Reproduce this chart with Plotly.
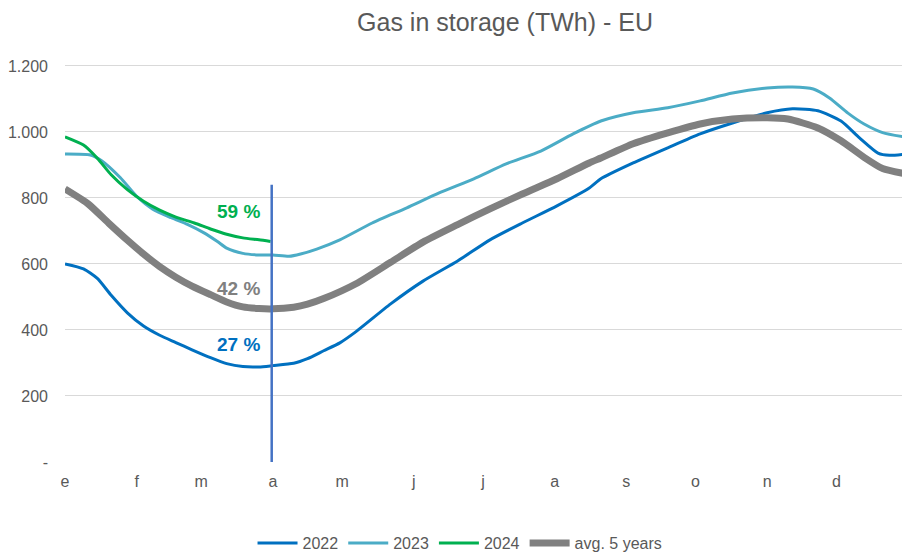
import plotly.graph_objects as go

# ---- data (day of year, TWh) ----
days_2022 = [0, 8, 14, 20, 27, 34, 41, 48, 55, 63, 70, 77, 84, 90, 99, 105, 112, 119, 126, 141, 155, 170, 184, 198, 213, 227, 232, 246, 261, 275, 289, 304, 315, 326, 336, 344, 352, 357, 364]
vals_2022 = [600, 585, 556, 505, 452, 412, 384, 362, 340, 316, 298, 289, 288, 292, 299, 313, 337, 361, 395, 479, 548, 609, 673, 724, 776, 830, 858, 906, 952, 994, 1027, 1058, 1070, 1064, 1033, 982, 936, 929, 933]

days_2023 = [0, 11, 16, 24, 31, 38, 46, 53, 60, 66, 70, 77, 84, 90, 97, 102, 109, 119, 133, 148, 162, 177, 191, 206, 220, 232, 246, 261, 275, 289, 304, 315, 324, 331, 339, 346, 354, 364]
vals_2023 = [933, 930, 912, 861, 805, 766, 740, 720, 695, 668, 648, 632, 627, 627, 623, 630, 645, 673, 724, 770, 815, 858, 903, 942, 994, 1033, 1058, 1073, 1094, 1118, 1133, 1136, 1130, 1103, 1057, 1024, 998, 984]

days_2024 = [0, 8, 14, 20, 27, 34, 41, 48, 56, 63, 70, 77, 84, 89]
vals_2024 = [985, 960, 920, 870, 825, 790, 763, 742, 724, 706, 690, 679, 673, 668]

days_avg = [0, 10, 19, 27, 34, 41, 48, 55, 63, 70, 77, 84, 90, 99, 105, 112, 126, 141, 155, 170, 184, 198, 213, 227, 232, 246, 261, 275, 289, 304, 313, 326, 336, 346, 354, 364]
vals_avg = [827, 782, 723, 672, 630, 592, 560, 533, 507, 485, 470, 465, 464, 469, 478, 495, 540, 605, 666, 719, 767, 812, 858, 906, 921, 964, 997, 1024, 1039, 1043, 1039, 1012, 973, 923, 889, 873]

month_starts = [0, 31, 59, 90, 120, 151, 181, 212, 243, 273, 304, 334]
month_labels = ["e", "f", "m", "a", "m", "j", "j", "a", "s", "o", "n", "d"]

y_ticks = [0, 200, 400, 600, 800, 1000, 1200]
y_ticktext = ["-", "200", "400", "600", "800", "1.000", "1.200"]

marker_day = 89.5
marker_top = 840
pct_labels = ["59 %", "42 %", "27 %"]
pct_values = [760, 527, 357]
pct_day = 75
pct_colors = ["#00B050", "#808080", "#0070C0"]

FONT = "Liberation Sans, Arial, sans-serif"
NARROW = "Liberation Sans Narrow, Arial Narrow, Liberation Sans, sans-serif"

fig = go.Figure()
fig.add_trace(go.Scatter(x=days_2022, y=vals_2022, name="2022", mode="lines",
                         line=dict(color="#0070C0", width=3, shape="spline", smoothing=0.6)))
fig.add_trace(go.Scatter(x=days_2023, y=vals_2023, name="2023", mode="lines",
                         line=dict(color="#4BACC6", width=3, shape="spline", smoothing=0.6)))
fig.add_trace(go.Scatter(x=days_2024, y=vals_2024, name="2024", mode="lines",
                         line=dict(color="#00B050", width=3, shape="spline", smoothing=0.6)))
fig.add_trace(go.Scatter(x=days_avg, y=vals_avg, name="avg. 5 years", mode="lines",
                         line=dict(color="#808080", width=7, shape="spline", smoothing=0.6)))

fig.add_shape(type="line", xref="x", yref="y", x0=marker_day, x1=marker_day, y0=0, y1=marker_top,
              line=dict(color="#4472C4", width=2.5))

for txt, v, c in zip(pct_labels, pct_values, pct_colors):
    fig.add_annotation(x=pct_day, y=v, xref="x", yref="y", text="<b>%s</b>" % txt, showarrow=False,
                       font=dict(family=FONT, size=19, color=c))

# page body has an 8px default margin, so the figure is sized to fit the window
fig.update_layout(
    width=902, height=547,
    margin=dict(l=57, r=2, t=48, b=93, autoexpand=False),
    paper_bgcolor="white", plot_bgcolor="white",
    title=dict(text="Gas in storage (TWh) - EU", xref="container", x=0.551, xanchor="center",
               yref="container", y=0.974, yanchor="middle",
               font=dict(family=FONT, size=25, color="#595959")),
    showlegend=True,
    legend=dict(orientation="h", x=0.4686, xanchor="center", y=-0.2, yanchor="middle",
                font=dict(family=FONT, size=16, color="#595959"), itemwidth=40),
    hovermode=False,
)
fig.update_xaxes(range=[0, 365], tickvals=month_starts, ticktext=month_labels,
                 showgrid=False, zeroline=False, showline=False, ticks="",
                 automargin=False, ticklabelstandoff=8,
                 tickfont=dict(family=NARROW, size=16, color="#595959"))
fig.update_yaxes(range=[0, 1230], tickvals=y_ticks, ticktext=y_ticktext,
                 showgrid=True, gridcolor="#D9D9D9", gridwidth=1, zeroline=False,
                 showline=False, ticks="", automargin=False, ticklabelstandoff=16,
                 tickfont=dict(family=FONT, size=16, color="#595959"))

fig.write_html("out.html")
